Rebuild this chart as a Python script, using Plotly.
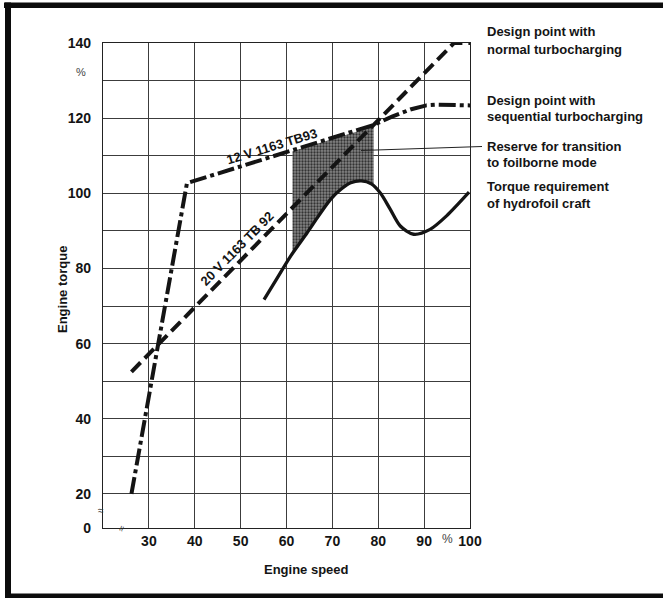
import plotly.graph_objects as go

W, H = 663, 598

# ---------------- data ----------------
speed_tb92 = [26.2, 96.5, 100]
torque_tb92 = [52.5, 140, 140]

speed_tb93 = [26.2, 38.3, 79, 83, 87, 90.5, 93, 100]
torque_tb93 = [20, 102.7, 118.2, 120.4, 122.3, 123.4, 123.6, 123.4]

speed_req = [55.1, 58, 60.9, 64.5, 67, 69.6, 72, 74, 76.3, 78.5, 80.5, 82.5, 84.8, 87.7, 91.3, 94.9, 99.8]
torque_req = [71.7, 77.5, 83.3, 89.5, 94, 98.4, 101.2, 102.8, 103.3, 102.5, 100, 96, 91.3, 89.1, 90.4, 94, 100.3]

reserve_speed = [61.3, 64.5, 67, 69.6, 72, 74, 76.3, 79]
reserve_lower = [84.5, 89.5, 94, 98.4, 101.2, 102.8, 103.3, 102.3]
reserve_upper = [111.2, 112.4, 113.3, 114.3, 115.2, 115.9, 116.8, 118.0]

x_ticks = [30, 40, 50, 60, 70, 80, 90, 100]
x_labels = ["30", "40", "50", "60", "70", "80", "90", "100"]
Y_ZERO = 10.93  # broken axis: "0" sits at the bottom of the plot
y_ticks = [Y_ZERO, 20, 30, 40, 50, 60, 70, 80, 90, 100, 110, 120, 130, 140]
y_labels = ["0", "20", "", "40", "", "60", "", "80", "", "100", "", "120", "", "140"]

# ---------------- helpers ----------------
def px(x):
    return x / W

def py(y):
    return 1 - y / H

FONT = "Liberation Sans, Arial, sans-serif"
INK = "#141414"

fig = go.Figure()

# reserve shading (between torque requirement and TB93 curve)
fig.add_trace(go.Scatter(x=reserve_speed, y=reserve_lower, mode="lines",
                         line=dict(width=0, shape="spline"), showlegend=False,
                         hoverinfo="skip"))
fig.add_trace(go.Scatter(x=reserve_speed, y=reserve_upper, mode="lines",
                         line=dict(width=0), fill="tonexty",
                         fillpattern=dict(shape=".", size=3, solidity=0.45,
                                          fgcolor="#333333", bgcolor="#858585",
                                          fillmode="replace"),
                         showlegend=False, hoverinfo="skip"))

fig.add_trace(go.Scatter(x=speed_req, y=torque_req, mode="lines",
                         line=dict(color=INK, width=3.3, shape="spline", smoothing=0.8),
                         showlegend=False))
fig.add_trace(go.Scatter(x=speed_tb92, y=torque_tb92, mode="lines",
                         line=dict(color=INK, width=4, dash="13px,6px"),
                         showlegend=False))
fig.add_trace(go.Scatter(x=speed_tb93, y=torque_tb93, mode="lines",
                         line=dict(color=INK, width=4, dash="17px,4px,4px,4px"),
                         showlegend=False))

def note(x, y, text, size=13, color=INK, angle=0, xanchor="center", xref="paper", yref="paper"):
    return dict(x=x, y=y, xref=xref, yref=yref, text=text, textangle=angle,
                xanchor=xanchor, yanchor="middle", showarrow=False,
                font=dict(family=FONT, size=size, color=color))

ann = []
# curve labels
ann.append(note(56.8, 112.4, "<b>12 V 1163 TB93</b>", angle=-17, xref="x", yref="y"))
ann.append(note(49.2, 85.4, "<b>20 V 1163 TB 92</b>", angle=-45.5, xref="x", yref="y"))

# right-hand notes
notes = [
    (32, "Design point with"), (49, "normal turbocharging"),
    (100, "Design point with"), (117, "sequential turbocharging"),
    (146.5, "Reserve for transition"), (163, "to foilborne mode"),
    (186.5, "Torque requirement"), (203, "of hydrofoil craft"),
]
for yy, t in notes:
    ann.append(note(px(485), py(yy), "<b>" + t + "</b>", xanchor="left"))

# axis titles and % marks
ann.append(note(px(306), py(569), "<b>Engine speed</b>"))
ann.append(note(px(62), py(290), "<b>Engine torque</b>", angle=-90))
ann.append(note(px(447), py(539), "%", size=12, color="#444"))
ann.append(note(px(81), py(72), "%", size=11, color="#444"))
# axis break marks
ann.append(note(px(101), py(510), "≈", size=10, color="#333"))
ann.append(note(px(121), py(528), "≈", size=10, color="#333", angle=-70))

shapes = [
    # pointer line for the reserve note
    dict(type="line", xref="paper", yref="paper", x0=px(361), y0=py(150.5), x1=px(482), y1=py(146.5),
         line=dict(color="#222", width=1)),
    # scanned frame
    dict(type="rect", xref="paper", yref="paper", x0=px(4), x1=px(663), y0=py(8), y1=py(2.5),
         fillcolor="#0c0c0c", line=dict(width=0), layer="above"),
    dict(type="rect", xref="paper", yref="paper", x0=px(5), x1=px(11), y0=py(598), y1=py(2.5),
         fillcolor="#0c0c0c", line=dict(width=0), layer="above"),
    dict(type="rect", xref="paper", yref="paper", x0=px(5), x1=px(663), y0=py(598), y1=py(593.5),
         fillcolor="#0c0c0c", line=dict(width=0), layer="above"),
]

axis_common = dict(showgrid=True, gridcolor="#3c3c3c", gridwidth=1, showline=True,
                   linecolor="#222", linewidth=1.2, mirror=True, ticks="", zeroline=False,
                   automargin=False,
                   tickfont=dict(family=FONT, size=14, color=INK, weight="bold"))

fig.update_layout(
    width=W, height=H, margin=dict(l=0, r=0, t=0, b=0, autoexpand=False),
    paper_bgcolor="white", plot_bgcolor="white",
    xaxis=dict(domain=[px(103), px(470)], range=[20, 100], tickvals=x_ticks, ticktext=x_labels,
               ticklabelstandoff=0, **axis_common),
    yaxis=dict(domain=[py(528), py(43)], range=[Y_ZERO, 140], tickvals=y_ticks, ticktext=y_labels,
               ticklabelstandoff=8, **axis_common),
    annotations=ann, shapes=shapes,
)

fig.write_html("out.html", config={"displayModeBar": False},
               post_script="document.body.style.margin='0';document.body.style.overflow='hidden';")
